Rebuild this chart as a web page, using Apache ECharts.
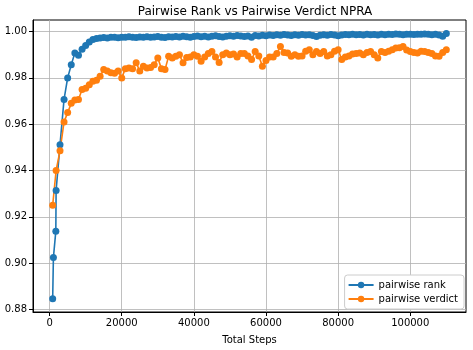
<!DOCTYPE html>
<html>
<head>
<meta charset="utf-8">
<script src="https://cdn.jsdelivr.net/npm/echarts@6/dist/echarts.min.js"></script>
<style>
  html, body { margin: 0; padding: 0; background: #fff; }
  #chart { width: 473px; height: 350px; }
</style>
</head>
<body>
<div id="chart"></div>
<script>
const steps = [
    850, 1050, 1720, 1800, 2880,
    4000, 5000, 6000, 7000, 8000, 9000, 10000, 11000, 12000, 13000,
    14000, 15000, 16000, 17000, 18000, 19000, 20000, 21000, 22000, 23000,
    24000, 25000, 26000, 27000, 28000, 29000, 30000, 31000, 32000, 33000,
    34000, 35000, 36000, 37000, 38000, 39000, 40000, 41000, 42000, 43000,
    44000, 45000, 46000, 47000, 48000, 49000, 50000, 51000, 52000, 53000,
    54000, 55000, 56000, 57000, 58000, 59000, 60000, 61000, 62000, 63000,
    64000, 65000, 66000, 67000, 68000, 69000, 70000, 71000, 72000, 73000,
    74000, 75000, 76000, 77000, 78000, 79000, 80000, 81000, 82000, 83000,
    84000, 85000, 86000, 87000, 88000, 89000, 90000, 91000, 92000, 93000,
    94000, 95000, 96000, 97000, 98000, 99000, 100000, 101000, 102000, 103000,
    104000, 105000, 106000, 107000, 108000, 109000, 110000
];

const pairwiseRank = [
    0.8846, 0.9024, 0.9138, 0.9314, 0.9511,
    0.9707, 0.9800, 0.9857, 0.9908, 0.9898, 0.9924, 0.9940, 0.9955, 0.9966, 0.9970,
    0.9972, 0.9974, 0.9972, 0.9976, 0.9975, 0.9973, 0.9976, 0.9975, 0.9978, 0.9976,
    0.9974, 0.9977, 0.9976, 0.9978, 0.9975, 0.9977, 0.9979, 0.9976, 0.9974, 0.9978,
    0.9977, 0.9979, 0.9977, 0.9980, 0.9978, 0.9976, 0.9979, 0.9981, 0.9978, 0.9980,
    0.9977, 0.9980, 0.9982, 0.9979, 0.9977, 0.9980, 0.9982, 0.9980, 0.9983, 0.9981,
    0.9979, 0.9981, 0.9976, 0.9983, 0.9981, 0.9984, 0.9982, 0.9985, 0.9983, 0.9986,
    0.9984, 0.9987, 0.9985, 0.9983, 0.9986, 0.9984, 0.9987, 0.9985, 0.9986, 0.9983,
    0.9979, 0.9984, 0.9986, 0.9984, 0.9987, 0.9985, 0.9982, 0.9985, 0.9987, 0.9986,
    0.9988, 0.9986, 0.9987, 0.9985, 0.9988, 0.9986, 0.9987, 0.9985, 0.9988, 0.9986,
    0.9989, 0.9987, 0.9990, 0.9988, 0.9986, 0.9988, 0.9989, 0.9987, 0.9989, 0.9988,
    0.9990, 0.9988, 0.9986, 0.9988, 0.9985, 0.9980, 0.9992
];

const pairwiseVerdict = [
    0.9250, null, null, 0.9400, 0.9485,
    0.9610, 0.9650, 0.9690, 0.9705, 0.9707, 0.9750, 0.9755, 0.9770, 0.9786, 0.9790,
    0.9807, 0.9836, 0.9830, 0.9822, 0.9820, 0.9830, 0.9800, 0.9840, 0.9843, 0.9840,
    0.9865, 0.9830, 0.9850, 0.9843, 0.9845, 0.9857, 0.9886, 0.9840, 0.9836, 0.9893,
    0.9886, 0.9893, 0.9900, 0.9865, 0.9888, 0.9890, 0.9900, 0.9893, 0.9872, 0.9890,
    0.9905, 0.9914, 0.9890, 0.9867, 0.9900, 0.9907, 0.9900, 0.9903, 0.9890, 0.9905,
    0.9905, 0.9895, 0.9879, 0.9914, 0.9895, 0.9850, 0.9875, 0.9890, 0.9890, 0.9905,
    0.9936, 0.9910, 0.9907, 0.9893, 0.9900, 0.9893, 0.9895, 0.9915, 0.9922, 0.9900,
    0.9914, 0.9905, 0.9914, 0.9895, 0.9900, 0.9915, 0.9922, 0.9879, 0.9890, 0.9895,
    0.9903, 0.9905, 0.9907, 0.9900, 0.9910, 0.9914, 0.9900, 0.9886, 0.9914, 0.9910,
    0.9915, 0.9922, 0.9929, 0.9930, 0.9936, 0.9920, 0.9914, 0.9910, 0.9907, 0.9915,
    0.9914, 0.9910, 0.9905, 0.9895, 0.9893, 0.9910, 0.9922
];

const xTicks = [0, 20000, 40000, 60000, 80000, 100000];
const yTicks = [0.88, 0.90, 0.92, 0.94, 0.96, 0.98, 1.00];

const chart = echarts.init(document.getElementById('chart'));
const font = 'DejaVu Sans';

function pairs(values) {
    return steps.map((s, i) => [s, values[i]]);
}

function makeSeries(name, values, color) {
    return {
        name,
        type: 'line',
        data: pairs(values),
        connectNulls: true,
        symbol: 'circle',
        symbolSize: 7,
        showSymbol: true,
        showAllSymbol: true,
        lineStyle: { color, width: 1.6 },
        itemStyle: { color },
        emphasis: { disabled: true },
        animation: false
    };
}

chart.setOption({
    animation: false,
    title: {
        text: 'Pairwise Rank vs Pairwise Verdict NPRA',
        left: 250, top: 1, textAlign: 'center',
        textStyle: { fontFamily: font, fontSize: 12, fontWeight: 'normal', color: '#000' }
    },
    grid: {
        left: 33, right: 7, top: 20, bottom: 36,
        show: true, borderColor: '#000', borderWidth: 1, backgroundColor: '#fff'
    },
    legend: {
        orient: 'vertical',
        right: 9, bottom: 41,
        padding: [5, 6, 5, 3],
        itemWidth: 25, itemHeight: 8, itemGap: 4,
        backgroundColor: '#fff',
        borderColor: '#ccc', borderWidth: 1, borderRadius: 3,
        textStyle: { fontFamily: font, fontSize: 10, color: '#000' },
        data: ['pairwise rank', 'pairwise verdict']
    },
    xAxis: {
        type: 'value',
        min: -4608, max: 115458,
        name: 'Total Steps', nameLocation: 'middle', nameGap: 23,
        nameTextStyle: { fontFamily: font, fontSize: 10, color: '#000' },
        axisLine: { show: true, onZero: false, lineStyle: { color: '#000', width: 1 } },
        axisTick: { show: true, length: 4, customValues: xTicks, lineStyle: { color: '#000' } },
        axisLabel: {
            customValues: xTicks, fontFamily: font, fontSize: 10, color: '#000', margin: 6,
            formatter: v => String(Math.round(v))
        },
        splitLine: { show: true, lineStyle: { color: '#b0b0b0', width: 0.8 } }
    },
    yAxis: {
        type: 'value',
        min: 0.8789, max: 1.005,
        axisLine: { show: true, onZero: false, lineStyle: { color: '#000', width: 1 } },
        axisTick: { show: true, length: 4, customValues: yTicks, lineStyle: { color: '#000' } },
        axisLabel: {
            customValues: yTicks, fontFamily: font, fontSize: 10, color: '#000', margin: 6,
            formatter: v => v.toFixed(2)
        },
        splitLine: { show: true, lineStyle: { color: '#b0b0b0', width: 0.8 } }
    },
    series: [
        makeSeries('pairwise rank', pairwiseRank, '#1f77b4'),
        makeSeries('pairwise verdict', pairwiseVerdict, '#ff7f0e')
    ]
});
</script>
</body>
</html>
